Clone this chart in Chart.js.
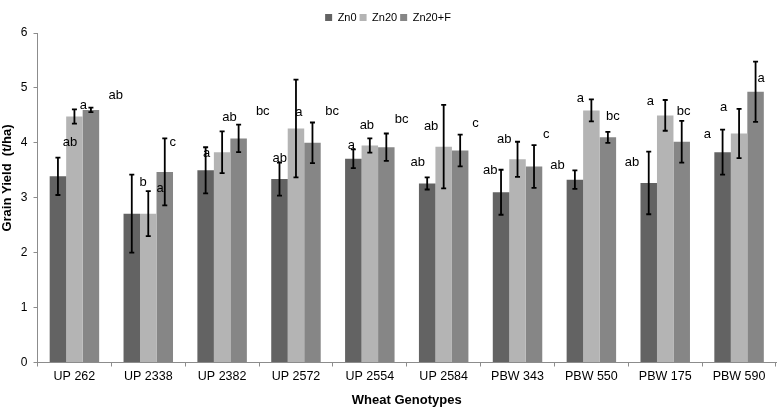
<!DOCTYPE html>
<html>
<head>
<meta charset="utf-8">
<script src="https://cdn.jsdelivr.net/npm/chart.js@4.4.1/dist/chart.umd.min.js"></script>
<style>
  html, body { margin: 0; padding: 0; background: #fff; }
  #wrap { width: 779px; height: 410px; position: relative; }
</style>
</head>
<body>
<div id="wrap"><canvas id="c" width="779" height="410"></canvas></div>
<script>
const categories = ['UP 262','UP 2338','UP 2382','UP 2572','UP 2554','UP 2584','PBW 343','PBW 550','PBW 175','PBW 590'];
const seriesNames = ['Zn0','Zn20','Zn20+F'];
const zn0 = [3.39,2.71,3.50,3.34,3.71,3.26,3.10,3.33,3.27,3.83];
const zn0Err = [0.34,0.71,0.42,0.30,0.17,0.11,0.41,0.17,0.57,0.41];
const zn20 = [4.48,2.71,3.83,4.26,3.95,3.93,3.70,4.59,4.50,4.17];
const zn20Err = [0.13,0.41,0.38,0.89,0.13,0.76,0.32,0.20,0.28,0.45];
const zn20f = [4.60,3.47,4.08,4.00,3.92,3.86,3.57,4.10,4.02,4.93];
const zn20fErr = [0.04,0.61,0.25,0.37,0.25,0.29,0.39,0.10,0.38,0.55];
const yTicks = [0,1,2,3,4,5,6];
const yTitle = 'Grain Yield  (t/ha)';
const xTitle = 'Wheat Genotypes';

// significance letters per genotype (Zn0, Zn20, Zn20+F)
const letters = [['ab','a','ab'],['b','a','c'],['a','ab','bc'],['ab','a','bc'],['a','ab','bc'],['ab','ab','c'],['ab','ab','c'],['ab','a','bc'],['ab','a','bc'],['a','a','a']];
// letter anchors in data units: category offset and y value
const letterDx = [[-0.06,0.12,0.56],[-0.07,0.16,0.33],[-0.21,0.10,0.55],[-0.22,0.04,0.49],[-0.25,-0.04,0.43],[-0.35,-0.17,0.43],[-0.37,-0.18,0.39],[-0.46,-0.15,0.29],[-0.45,-0.20,0.25],[-0.43,-0.21,0.30]];
const letterY = [[4.01,4.69,4.87],[3.28,3.17,4.01],[3.81,4.46,4.57],[3.71,4.55,4.57],[3.96,4.31,4.43],[3.65,4.29,4.36],[3.49,4.07,4.16],[3.58,4.81,4.48],[3.65,4.75,4.57],[4.16,4.64,5.18]];

const values = [zn0, zn20, zn20f];
const errors = [zn0Err, zn20Err, zn20fErr];
const colors = ['#636363', '#b4b4b4', '#868686'];
const FONT = "'Liberation Sans', Arial, Helvetica, sans-serif";

const errorBarPlugin = {
  id: 'errorBars',
  afterDatasetsDraw(chart) {
    const ctx = chart.ctx;
    const y = chart.scales.y;
    ctx.save();
    ctx.strokeStyle = '#000';
    ctx.lineWidth = 1.8;
    values.forEach((vals, d) => {
      const meta = chart.getDatasetMeta(d);
      meta.data.forEach((bar, i) => {
        const x = bar.x;
        const top = y.getPixelForValue(vals[i] + errors[d][i]);
        const bot = y.getPixelForValue(vals[i] - errors[d][i]);
        ctx.beginPath();
        ctx.moveTo(x, top); ctx.lineTo(x, bot);
        ctx.moveTo(x - 2.5, top); ctx.lineTo(x + 2.5, top);
        ctx.moveTo(x - 2.5, bot); ctx.lineTo(x + 2.5, bot);
        ctx.stroke();
      });
    });
    ctx.restore();
  }
};

const letterPlugin = {
  id: 'letters',
  afterDatasetsDraw(chart) {
    const ctx = chart.ctx;
    const xs = chart.scales.x, ys = chart.scales.y;
    ctx.save();
    ctx.fillStyle = '#000';
    ctx.font = '13px ' + FONT;
    ctx.textAlign = 'center';
    ctx.textBaseline = 'middle';
    const cw = xs.getPixelForValue(1) - xs.getPixelForValue(0);
    letters.forEach((row, i) => {
      row.forEach((t, d) => {
        const px = xs.getPixelForValue(i) + letterDx[i][d] * cw;
        const py = ys.getPixelForValue(letterY[i][d]);
        ctx.fillText(t, px, py);
      });
    });
    ctx.restore();
  }
};

// y-axis title drawn slightly above the middle, as in the original figure
const yTitlePlugin = {
  id: 'yTitle',
  afterDraw(chart) {
    const ctx = chart.ctx;
    const a = chart.chartArea;
    ctx.save();
    ctx.fillStyle = '#000';
    ctx.font = 'bold 13px ' + FONT;
    ctx.textAlign = 'center';
    ctx.textBaseline = 'middle';
    ctx.translate(7.5, a.top + (a.bottom - a.top) * 0.44);
    ctx.rotate(-Math.PI / 2);
    ctx.fillText(yTitle, 0, 0);
    ctx.restore();
  }
};

new Chart(document.getElementById('c'), {
  type: 'bar',
  data: {
    labels: categories,
    datasets: seriesNames.map((n, d) => ({
      label: n,
      data: values[d],
      backgroundColor: colors[d],
      borderWidth: 0,
      categoryPercentage: 0.67,
      barPercentage: 1.0
    }))
  },
  options: {
    responsive: false,
    animation: false,
    devicePixelRatio: 1,
    layout: { padding: { top: 9, right: 3, left: 0, bottom: 0 } },
    plugins: {
      legend: {
        position: 'top',
        labels: { boxWidth: 7, boxHeight: 7, padding: 3, color: '#000', font: { size: 11, family: FONT } }
      },
      tooltip: { enabled: false }
    },
    scales: {
      x: {
        grid: { display: true, drawOnChartArea: false, drawTicks: true, tickLength: 4, color: '#8c8c8c', offset: true },
        border: { color: '#8c8c8c', width: 1 },
        ticks: { color: '#000', font: { size: 12.5, family: FONT }, padding: 3, maxRotation: 0 },
        title: { display: true, text: xTitle, color: '#000', font: { size: 13, weight: 'bold', family: FONT }, padding: { top: 4, bottom: 2 } },
        afterFit(scale) { scale.height = 47.5; }
      },
      y: {
        min: 0, max: 6,
        afterBuildTicks(scale) { scale.ticks = yTicks.map(v => ({ value: v })); },
        grid: { display: true, drawOnChartArea: false, drawTicks: true, tickLength: 4, color: '#8c8c8c' },
        border: { color: '#8c8c8c', width: 1 },
        ticks: { color: '#000', font: { size: 12, family: FONT }, padding: 6 },
        title: { display: false },
        afterFit(scale) { scale.width = 37.5; }
      }
    }
  },
  plugins: [errorBarPlugin, letterPlugin, yTitlePlugin]
});
</script>
</body>
</html>
